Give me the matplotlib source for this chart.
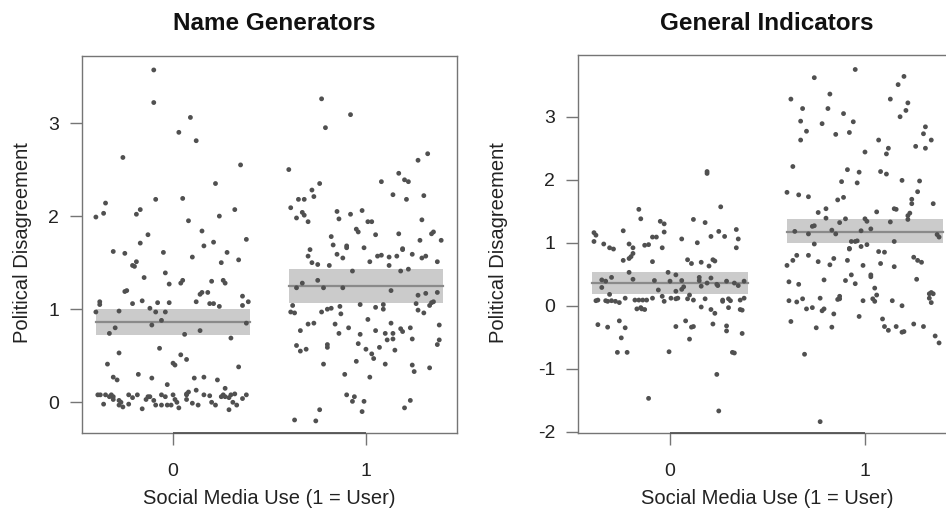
import matplotlib
matplotlib.use("Agg")
import matplotlib.pyplot as plt

plt.rcParams['font.family'] = ['Liberation Sans', 'DejaVu Sans']
plt.rcParams['axes.unicode_minus'] = False

titles = ["Name Generators", "General Indicators"]
x_label = "Social Media Use (1 = User)"
y_label = "Political Disagreement"
groups = [0, 1]
x_ticklabels = ["0", "1"]
ng_yticks = [0, 1, 2, 3]
gi_yticks = [-2, -1, 0, 1, 2, 3]

# ---- Name Generators, non-users (jittered x, value) ----
ng0_x = [-0.10, -0.10, 0.09, 0.03, 0.12, -0.26, 0.35, 0.22, -0.35, -0.09, 0.05, -0.40, -0.36, -0.19, -0.17,
         0.08, 0.24, 0.32, -0.13, 0.15, -0.17, 0.38, 0.16, 0.21,
         -0.31, -0.25, -0.05, 0.10, 0.28, 0.34, 0.25, -0.19, -0.21, -0.20, -0.15, -0.04, -0.02, 0.05, 0.04,
         0.20, 0.26, 0.27, -0.24, -0.25, 0.15, 0.14, 0.18, -0.38, -0.38, -0.40, -0.28, -0.21, -0.16, -0.12,
         -0.08, -0.09, -0.04, -0.02, 0.12, 0.19, 0.21, 0.24, 0.36, 0.39, 0.36, 0.38, -0.11, -0.06, -0.30,
         -0.33, 0.06, 0.14, 0.30, -0.07, -0.28, 0.04, 0.07, -0.34, 0.00, 0.01, 0.34, -0.31, -0.29, -0.18,
         -0.11, 0.11, 0.16, 0.23, -0.03, 0.27, 0.12, 0.08, 0.07,
         -0.39, -0.377, -0.36, -0.35, -0.33, -0.31, -0.32, -0.31, -0.28, -0.28, -0.26, -0.27, -0.23, -0.23,
         -0.185, -0.16, -0.14, -0.13, -0.12, -0.09, -0.06, -0.06, -0.03, -0.01, 0.00, 0.01, 0.02, 0.03, 0.07,
         0.07, 0.13, 0.16, 0.19, 0.20, 0.22, 0.25, 0.26, 0.27, 0.29, 0.30, 0.31, 0.29, 0.32, 0.33, 0.38,
         -0.21, -0.10, 0.10, 0.36, -0.04]
ng0_y = [3.57, 3.22, 3.06, 2.90, 2.81, 2.63, 2.55, 2.35, 2.14, 2.18, 2.19, 1.99, 2.03, 2.02, 2.07,
         1.95, 2.00, 2.07, 1.80, 1.84, 1.71, 1.75, 1.68, 1.72,
         1.62, 1.60, 1.61, 1.56, 1.61, 1.53, 1.50, 1.51, 1.47, 1.46, 1.34, 1.39, 1.27, 1.31, 1.28,
         1.30, 1.31, 1.28, 1.20, 1.19, 1.18, 1.16, 1.18, 1.08, 1.05, 0.97, 0.98, 1.06, 1.09, 1.01,
         1.07, 0.97, 0.97, 1.07, 1.08, 1.06, 1.06, 1.03, 1.04, 1.08, 1.14, 0.85, 0.83, 0.88, 0.80,
         0.74, 0.73, 0.77, 0.69, 0.58, 0.53, 0.51, 0.46, 0.41, 0.42, 0.40, 0.38, 0.27, 0.24, 0.30,
         0.26, 0.26, 0.27, 0.24, 0.19, 0.15, 0.13, 0.11, 0.09,
         0.08, 0.08, -0.02, 0.08, 0.06, 0.03, 0.08, 0.06, 0.02, -0.03, -0.05, 0.00, 0.08, -0.02,
         0.08, -0.07, 0.03, 0.06, 0.06, -0.03, 0.08, -0.03, -0.03, -0.03, 0.08, 0.03, 0.00, -0.06, 0.03,
         0.08, -0.03, 0.08, 0.07, 0.00, -0.03, 0.06, 0.08, 0.06, 0.05, 0.08, 0.00, -0.08, 0.09, -0.03, 0.08,
         0.05, 0.02, -0.01, 0.04, 0.06]

# ---- Name Generators, users ----
ng1_x = [0.77, 0.92, 0.79, 0.60, 1.32, 1.27, 1.17, 1.20, 1.22, 0.76, 1.08, 0.72, 0.73, 1.14, 1.30,
         1.21, 0.65, 0.68, 0.61, 0.67, 0.68, 0.64, 0.70, 0.85, 0.92, 0.98, 0.86, 1.01, 1.03, 1.29,
         0.95, 0.96, 1.05, 1.17, 1.34, 1.35, 0.82, 0.83, 0.90, 0.90, 0.99, 1.19, 1.28, 1.39, 0.71,
         0.70, 0.72, 0.75, 0.81, 0.85, 0.88, 1.02, 1.06, 1.08, 1.12, 1.16, 1.19, 1.24, 1.29, 1.31, 1.37,
         1.12, 0.93, 1.18, 1.22, 0.75, 0.67, 0.64, 0.78, 0.88, 1.13, 1.27, 1.31, 1.37, 0.62, 0.61, 0.63,
         0.77, 0.80, 0.82, 0.865, 0.87, 0.97, 1.05, 1.09, 1.09, 1.26, 1.27, 1.30, 1.33, 1.34, 1.35, 1.01,
         0.70, 0.73, 0.66, 0.84, 0.86, 0.91, 0.97, 1.05, 1.10, 1.13, 1.14, 1.18, 1.19, 1.23, 1.11, 1.14,
         1.24, 1.38, 1.38, 1.37, 0.64, 0.66, 0.69, 0.80, 0.80, 0.96, 1.00, 1.07, 1.15, 1.03, 1.04, 0.95,
         0.78, 1.10, 1.24, 1.25, 1.33, 0.89, 1.02, 0.90, 0.94, 0.93, 0.99, 1.23, 1.20, 0.76, 0.98, 0.63,
         0.74]
ng1_y = [3.26, 3.09, 2.95, 2.50, 2.67, 2.60, 2.46, 2.39, 2.37, 2.35, 2.37, 2.28, 2.21, 2.23, 2.22,
         2.18, 2.18, 2.18, 2.09, 2.04, 2.01, 1.98, 1.94, 2.05, 2.02, 2.06, 1.97, 1.94, 1.94, 1.96,
         1.86, 1.83, 1.80, 1.81, 1.81, 1.83, 1.78, 1.69, 1.68, 1.66, 1.66, 1.65, 1.74, 1.74, 1.64,
         1.57, 1.50, 1.48, 1.47, 1.59, 1.55, 1.51, 1.57, 1.58, 1.56, 1.57, 1.64, 1.59, 1.55, 1.57, 1.51,
         1.47, 1.41, 1.41, 1.43, 1.31, 1.28, 1.23, 1.23, 1.23, 1.20, 1.15, 1.17, 1.18, 1.04, 0.97, 0.96,
         0.97, 1.00, 1.01, 1.03, 0.95, 1.05, 1.02, 1.05, 1.00, 1.06, 0.99, 0.96, 1.04, 1.07, 1.08, 0.89,
         0.84, 0.85, 0.77, 0.84, 0.74, 0.80, 0.73, 0.77, 0.74, 0.85, 0.74, 0.79, 0.76, 0.80, 0.67, 0.68,
         0.68, 0.83, 0.67, 0.62, 0.61, 0.55, 0.57, 0.62, 0.59, 0.63, 0.57, 0.59, 0.56, 0.52, 0.47, 0.44,
         0.41, 0.41, 0.40, 0.33, 0.37, 0.30, 0.27, 0.08, 0.06, 0.01, 0.01, 0.02, -0.06, -0.08, -0.10, -0.19,
         -0.20]

# ---- General Indicators, non-users ----
gi0_x = [0.19, 0.19, 0.26, -0.16, -0.15, 0.12, 0.18, -0.05, -0.03, -0.24, -0.03, 0.25, 0.28, 0.21, 0.34,
         0.35, -0.39, -0.38, -0.39, -0.34, -0.31, -0.29, -0.21, -0.19, -0.09, -0.07, -0.13, -0.11, -0.04,
         0.06, 0.14, 0.34,
         -0.19, -0.24, -0.21, -0.20, -0.09, 0.09, 0.11, 0.16, 0.20, 0.22, 0.23, -0.21, -0.19, -0.30, -0.35,
         -0.33, -0.35, -0.31, -0.38, -0.37, -0.33, -0.32, -0.30, -0.28, -0.26, -0.23, -0.18, -0.16, -0.14,
         -0.12, -0.17, -0.145, -0.13, -0.15, -0.08, -0.06, -0.09, -0.04, -0.03, -0.01, 0.00, 0.03, 0.005,
         0.03, 0.04, 0.03, 0.06, 0.06, 0.07, 0.09, 0.10, 0.12, 0.15, 0.16, 0.18, 0.15, 0.19, 0.21, 0.24,
         0.245, 0.16, 0.21, 0.23, 0.29, 0.38, 0.35, 0.33, 0.27, 0.27, 0.30, 0.31, 0.36, 0.38, 0.30, 0.36,
         0.37, -0.37, -0.32, -0.26, -0.23, -0.25, -0.27, -0.22, 0.03, 0.08, 0.11, 0.12, 0.10, 0.22, 0.29,
         0.29, 0.37, -0.005, 0.32, 0.33, 0.24, -0.11, 0.25]
gi0_y = [2.13, 2.10, 1.57, 1.53, 1.38, 1.37, 1.32, 1.34, 1.30, 1.19, 1.17, 1.18, 1.10, 1.10, 1.21,
         1.06, 1.16, 1.12, 1.02, 0.98, 0.92, 0.90, 0.98, 0.92, 1.09, 1.09, 0.96, 0.97, 0.92,
         1.06, 1.00, 0.92,
         0.83, 0.72, 0.75, 0.78, 0.70, 0.73, 0.67, 0.69, 0.63, 0.73, 0.71, 0.53, 0.42, 0.45, 0.41,
         0.39, 0.29, 0.18, 0.08, 0.09, 0.08, 0.07, 0.08, 0.07, 0.05, 0.12, 0.09, 0.09, 0.09,
         0.09, -0.05, -0.05, -0.06, -0.03, 0.40, 0.25, 0.12, 0.15, 0.07, 0.53, 0.39, 0.49, 0.12,
         0.11, 0.12, 0.23, 0.40, 0.26, 0.30, 0.11, 0.17, 0.09, 0.45, 0.31, 0.11, 0.40, 0.36, 0.44, 0.34,
         0.32, -0.02, -0.06, -0.12, 0.39, 0.39, 0.32, 0.36, 0.09, 0.07, 0.11, 0.08, 0.09, 0.12, -0.03, -0.06,
         -0.07, -0.30, -0.34, -0.24, -0.35, -0.51, -0.74, -0.74, -0.33, -0.24, -0.34, -0.33, -0.53, -0.29, -0.32,
         -0.40, -0.44, -0.73, -0.74, -0.75, -1.09, -1.47, -1.67]

# ---- General Indicators, users ----
gi1_x = [0.95, 0.74, 1.20, 1.17, 0.62, 0.82, 0.68, 0.81, 1.13, 1.22, 1.21, 0.89, 1.18, 0.67, 0.78,
         0.94, 0.70, 0.67, 0.85, 0.92, 1.31, 1.30, 1.34, 1.26, 1.31, 1.07, 1.12, 1.11, 1.00, 0.63,
         0.91, 0.97, 1.08, 1.11, 0.88, 0.96, 1.19, 1.28, 0.60, 0.66, 0.71, 0.86, 0.89, 1.24, 1.24,
         1.27, 1.35, 0.76, 0.80, 1.06, 1.15, 1.16, 1.23, 1.22, 1.22, 0.80, 0.87, 0.90, 1.00, 1.01,
         1.13, 0.73, 0.74, 1.03, 0.64, 0.71, 0.83, 0.85, 0.98, 1.37, 1.38, 0.74, 0.93, 0.95, 0.96,
         0.98, 1.01, 1.15, 0.92,
         0.65, 0.63, 0.60, 0.71, 0.76, 0.82, 0.84, 0.91, 0.92, 0.99, 1.03, 1.03, 1.07, 1.10, 1.08,
         1.15, 1.25, 1.27, 1.29, 1.265, 0.61, 0.66, 0.79, 0.90, 0.93, 0.95, 1.05, 1.06, 1.04, 1.05,
         0.61, 0.65, 0.68, 0.70, 0.73, 0.77, 0.78, 0.79, 0.84, 0.86, 0.87, 0.87, 0.99, 1.14, 1.19,
         0.97, 1.09, 0.62, 0.75, 0.83, 1.10, 1.12, 1.16, 1.19, 1.20, 1.25, 1.30, 1.33, 1.34, 1.35,
         1.33, 1.34, 1.36, 1.38, 0.69, 0.77]
gi1_y = [3.75, 3.62, 3.64, 3.51, 3.28, 3.36, 3.13, 3.13, 3.28, 3.22, 3.10, 3.05, 3.00, 2.93, 2.89,
         2.92, 2.77, 2.63, 2.72, 2.75, 2.84, 2.73, 2.63, 2.53, 2.50, 2.63, 2.50, 2.41, 2.44, 2.21,
         2.16, 2.12, 2.13, 2.09, 1.97, 1.95, 1.99, 1.98, 1.80, 1.76, 1.73, 1.68, 1.72, 1.69, 1.62,
         1.81, 1.62, 1.48, 1.54, 1.49, 1.54, 1.53, 1.47, 1.43, 1.37, 1.39, 1.32, 1.38, 1.38, 1.34,
         1.33, 1.26, 1.27, 1.22, 1.18, 1.14, 1.20, 1.14, 1.19, 1.13, 1.09, 0.98, 1.02, 1.02, 1.03,
         0.94, 0.97, 1.02, 0.91,
         0.80, 0.72, 0.64, 0.80, 0.70, 0.65, 0.75, 0.72, 0.90, 0.64, 0.46, 0.49, 0.86, 0.85, 0.67,
         0.62, 0.77, 0.72, 0.69, 0.42, 0.38, 0.34, 0.41, 0.40, 0.49, 0.35, 0.28, 0.17, 0.11, 0.07,
         0.08, 0.06, 0.11, -0.05, -0.03, 0.12, -0.08, -0.05, -0.13, 0.10, 0.15, 0.11, 0.08, 0.08, 0.00,
         -0.17, -0.21, -0.25, -0.35, -0.34, -0.33, -0.39, -0.33, -0.42, -0.41, -0.29, -0.33, 0.19, 0.21, 0.19,
         0.12, 0.05, -0.48, -0.59, -0.77, -1.84]

# ---- group means with confidence bands ----
ng_mean = [0.86, 1.25]
ng_lo = [0.72, 1.07]
ng_hi = [1.00, 1.43]
gi_mean = [0.36, 1.17]
gi_lo = [0.19, 0.99]
gi_hi = [0.54, 1.37]

W, H = 946, 516
fig = plt.figure(figsize=(W / 100, H / 100), dpi=100)

def px_axes(x0, x1, y0, y1):
    return fig.add_axes([x0 / W, (H - y1) / H, (x1 - x0) / W, (y1 - y0) / H])

ax1 = px_axes(82, 457, 56, 433)
ax2 = px_axes(578, 957, 55, 433)

panels = [
    (ax1, [(ng0_x, ng0_y), (ng1_x, ng1_y)], ng_mean, ng_lo, ng_hi, (-0.33, 3.72), ng_yticks, titles[0]),
    (ax2, [(gi0_x, gi0_y), (gi1_x, gi1_y)], gi_mean, gi_lo, gi_hi, (-2.02, 3.98), gi_yticks, titles[1]),
]

pt_color = '#505050'
frame_color = '#757575'
for ax, pts, mean, lo, hi, ylim, yticks, title in panels:
    for g in groups:
        ax.fill_between([g - 0.4, g + 0.4], [lo[g]] * 2, [hi[g]] * 2,
                        color='#cbcbcb', lw=0, zorder=1)
        ax.plot([g - 0.4, g + 0.4], [mean[g]] * 2, color='#8a8a8a', lw=1.6, zorder=2)
    for xs, ys in pts:
        ax.scatter(xs, ys, s=12, color=pt_color, edgecolors='none', zorder=3)
    ax.set_xlim(-0.472, 1.472)
    ax.set_ylim(*ylim)
    ax.set_xticks(groups)
    ax.set_xticklabels(x_ticklabels)
    ax.set_yticks(yticks)
    ax.set_yticklabels([str(t) for t in yticks])
    for sp in ax.spines.values():
        sp.set_color(frame_color)
        sp.set_linewidth(1.0)
    ax.tick_params(axis='both', direction='out', length=8.5, width=1.0, color=frame_color,
                   labelsize=14, labelcolor='#222222')
    ax.tick_params(axis='x', pad=13)
    ax.tick_params(axis='y', pad=8)
    ax.plot([groups[0], groups[-1]], [ylim[0], ylim[0]], color='#555555', lw=1.3,
            clip_on=False, zorder=5, solid_capstyle='butt')

fig.text(274 / W, 1 - 23 / H, titles[0], ha='center', va='center', fontsize=17.5,
         fontweight='bold', color='#111111')
fig.text(767 / W, 1 - 23 / H, titles[1], ha='center', va='center', fontsize=17.5,
         fontweight='bold', color='#111111')
for cx in (269, 767):
    fig.text(cx / W, 1 - 499 / H, x_label, ha='center', va='center', fontsize=14.5, color='#222222')
for cx in (22, 498):
    fig.text(cx / W, 1 - 243 / H, y_label, ha='center', va='center', rotation=90,
             fontsize=14.5, color='#222222')

fig.savefig('out.png', dpi=100)
